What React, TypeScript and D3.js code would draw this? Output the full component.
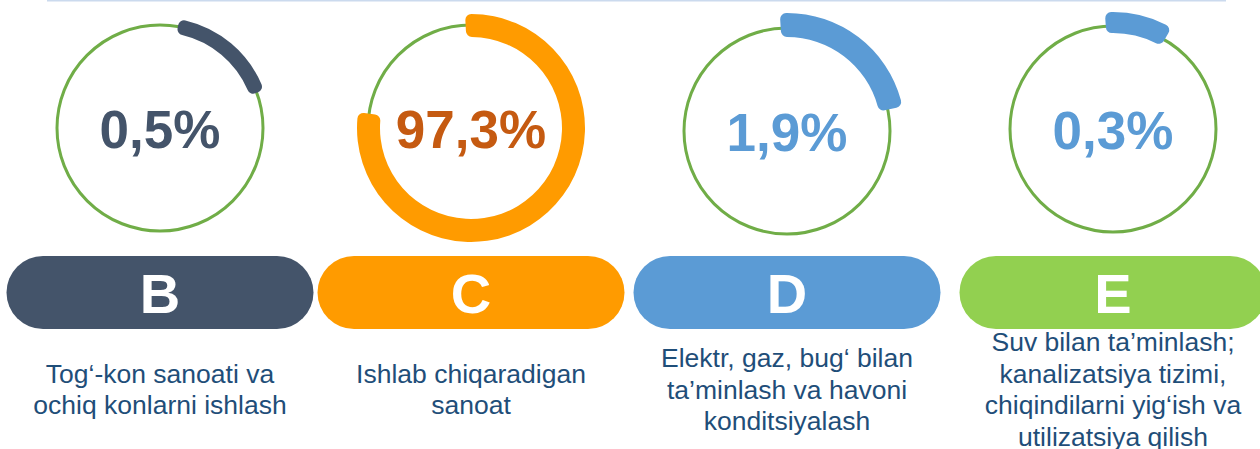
import React from "react";
import * as d3 from "d3";

// ---- data ----
const codes = ["B", "C", "D", "E"];
const shares = [0.5, 97.3, 1.9, 0.3];
const shareLabels = ["0,5%", "97,3%", "1,9%", "0,3%"];
// drawn arc extents on each ring (degrees, clockwise from top), as shown in the picture
const arcStartDeg = [10, -3, -3.5, -4];
const arcEndDeg = [70, 278, 78, 30];
const descriptions = [
  ["Tog‘-kon sanoati va", "ochiq konlarni ishlash"],
  ["Ishlab chiqaradigan", "sanoat"],
  ["Elektr, gaz, bug‘ bilan", "ta’minlash va havoni", "konditsiyalash"],
  ["Suv bilan ta’minlash;", "kanalizatsiya tizimi,", "chiqindilarni yig‘ish va", "utilizatsiya qilish"],
];

// ---- layout / style ----
const W = 1260;
const H = 449;
const centerX = d3.scaleOrdinal<string, number>().domain(codes).range([160, 471, 787, 1113]);
const centerY = d3.scaleOrdinal<string, number>().domain(codes).range([128, 128, 131, 129]);
const R = 103;
const arcInner = [-7.5, -12, -9, -7];
const arcOuter = [7.5, 11, 15, 14];
const arcColors = ["#44546A", "#FF9B00", "#5B9BD5", "#5B9BD5"];
const labelColors = ["#44546A", "#C55A11", "#5B9BD5", "#5B9BD5"];
const pillColors = ["#44546A", "#FF9B00", "#5B9BD5", "#92D050"];
const ringColor = "#70AD47";
const textColor = "#1F4E79";
const font = "'Liberation Sans', Arial, Helvetica, sans-serif";
const pillTop = 256;
const pillH = 73;
const pillHalfW = 153.5;
const descCenterY = 398;
const lineH = 31.7;
const rad = (d: number) => (d * Math.PI) / 180;

export default function App() {
  const arcGen = d3.arc<any>().cornerRadius(6);
  return (
    <svg
      width={W}
      height={H}
      viewBox={`0 0 ${W} ${H}`}
      style={{ position: "absolute", left: 0, top: 0, background: "#fff" }}
    >
      <line x1={47} x2={1226} y1={0.75} y2={0.75} stroke="#CBDAEE" strokeWidth={1.5} />
      {codes.map((c, i) => {
        const cx = centerX(c);
        const cy = centerY(c);
        const d = arcGen({
          innerRadius: R + arcInner[i],
          outerRadius: R + arcOuter[i],
          startAngle: rad(arcStartDeg[i]),
          endAngle: rad(arcEndDeg[i]),
        }) as string;
        const pillCy = pillTop + pillH / 2;
        const lines = descriptions[i];
        return (
          <g key={c} data-share={shares[i]}>
            <circle cx={cx} cy={cy} r={R} fill="none" stroke={ringColor} strokeWidth={3} />
            <path d={d} transform={`translate(${cx},${cy})`} fill={arcColors[i]} />
            <text
              x={cx}
              y={cy + 20}
              textAnchor="middle"
              fontFamily={font}
              fontWeight="bold"
              fontSize={53}
              fill={labelColors[i]}
            >
              {shareLabels[i]}
            </text>
            <rect
              x={cx - pillHalfW}
              y={pillTop}
              width={pillHalfW * 2}
              height={pillH}
              rx={pillH / 2}
              ry={pillH / 2}
              fill={pillColors[i]}
            />
            <text
              x={cx}
              y={pillCy + 20}
              textAnchor="middle"
              fontFamily={font}
              fontWeight="bold"
              fontSize={56}
              fill="#fff"
            >
              {c}
            </text>
            {lines.map((ln, j) => (
              <text
                key={j}
                x={cx}
                y={descCenterY + (j - (lines.length - 1) / 2) * lineH + 0.5}
                textAnchor="middle"
                fontFamily={font}
                fontSize={26.5}
                fill={textColor}
              >
                {ln}
              </text>
            ))}
          </g>
        );
      })}
    </svg>
  );
}
